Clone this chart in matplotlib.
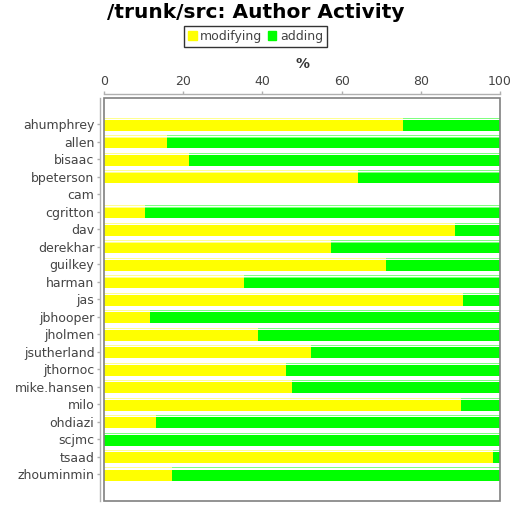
import matplotlib
matplotlib.use("Agg")
import matplotlib.pyplot as plt
from matplotlib.patches import Rectangle, Patch
import numpy as np

authors = ["ahumphrey", "allen", "bisaac", "bpeterson", "cam", "cgritton", "dav",
           "derekhar", "guilkey", "harman", "jas", "jbhooper", "jholmen",
           "jsutherland", "jthornoc", "mike.hansen", "milo", "ohdiazi", "scjmc",
           "tsaad", "zhouminmin"]
modifying = [75.5, 15.8, 21.4, 64.1, 0, 10.4, 88.7, 57.2, 71.2, 35.4, 90.7,
             11.5, 38.8, 52.2, 45.9, 47.6, 90.1, 13.1, 0, 98.3, 17.2]
adding = [24.5, 84.2, 78.6, 35.9, 0, 89.6, 11.3, 42.8, 28.8, 64.6, 9.3,
          88.5, 61.2, 47.8, 54.1, 52.4, 9.9, 86.9, 100, 1.7, 82.8]
xticks = [0, 20, 40, 60, 80, 100]

W, H = 512, 509
fig = plt.figure(figsize=(W / 100, H / 100), dpi=100)
ax = fig.add_axes([104 / W, 1 - 501 / H, 396 / W, 403 / H])

y = np.arange(len(authors))
mod = np.array(modifying)
add = np.array(adding)
has = (mod + add) > 0

full_h = 0.744
solid_h = 0.615
for vals, left, col, light in [(mod, np.zeros_like(mod), "#ffff00", "#ffff90"),
                               (add, mod, "#00ff00", "#80ff80")]:
    v = np.where(has, vals, 0)
    ax.barh(y, v, left=left, height=full_h, color=light, linewidth=0)
    ax.barh(y - full_h / 2 + 0.085, v, left=left, height=0.06, color="white", linewidth=0)
    ax.barh(y + full_h / 2 - solid_h / 2, v, left=left, height=solid_h, color=col, linewidth=0)

ax.set_xlim(0, 100)
ax.set_ylim(21.545, -1.515)
ax.set_yticks(y)
ax.set_yticklabels(authors)
ax.set_xticks(xticks)
ax.xaxis.tick_top()
ax.xaxis.set_label_position("top")
ax.set_xlabel("%", fontsize=10, fontweight="bold", color="#333333", labelpad=5)

for s in ["right", "bottom"]:
    ax.spines[s].set_visible(False)
off = 4 * 72 / 100
ax.spines["left"].set_position(("outward", off))
ax.spines["top"].set_position(("outward", off))
for s in ["left", "top"]:
    ax.spines[s].set_color("#b0b0b0")
    ax.spines[s].set_linewidth(1)
ax.tick_params(axis="both", length=2, width=1, color="#b0b0b0", labelsize=9,
               labelcolor="#444444")
ax.tick_params(axis="y", pad=2)
ax.tick_params(axis="x", pad=2)
ax.add_patch(Rectangle((0, 0), 1, 1, transform=ax.transAxes, fill=False,
                       edgecolor="#808080", linewidth=1.2, clip_on=False, zorder=5))

fig.text(0.5, 1 - 13 / H, "/trunk/src: Author Activity", ha="center", va="center",
         fontsize=14.5, fontweight="bold", color="black")

handles = [Patch(color="#ffff00", label="modifying"), Patch(color="#00ff00", label="adding")]
leg = fig.legend(handles=handles, loc="center", bbox_to_anchor=(255.5 / W, 1 - 36.5 / H),
                 ncol=2, frameon=True, fancybox=False, fontsize=9, handlelength=0.7,
                 handleheight=0.7, handletextpad=0.3, columnspacing=0.4,
                 borderpad=0.3, borderaxespad=0)
leg.get_frame().set_edgecolor("black")
leg.get_frame().set_linewidth(1)
for t in leg.get_texts():
    t.set_color("#444444")

fig.savefig("out.png", dpi=100)
